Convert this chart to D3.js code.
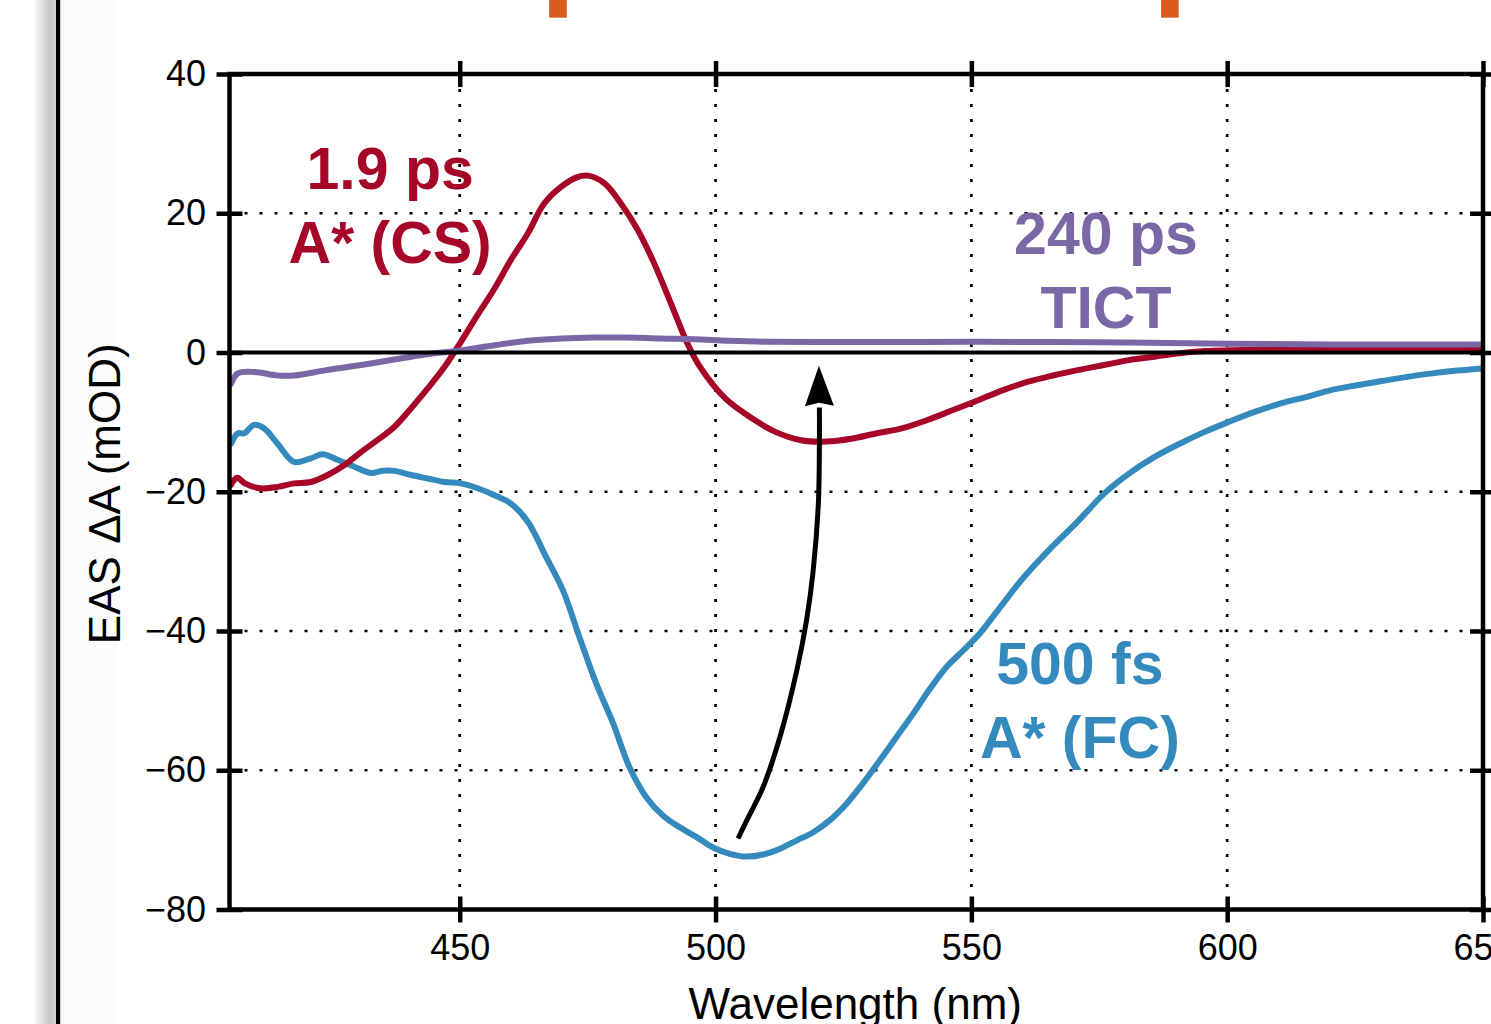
<!DOCTYPE html>
<html>
<head>
<meta charset="utf-8">
<script src="https://cdn.jsdelivr.net/npm/d3@7"></script>
<style>
  html, body { margin: 0; padding: 0; background: #ffffff; }
  svg { display: block; }
  text { font-family: "Liberation Sans", Arial, Helvetica, sans-serif; }
</style>
</head>
<body>
<svg id="chart" width="1491" height="1024"></svg>
<script>
// Evolution-associated spectra (EAS), wavelength in nm, ΔA in mOD

// 500 fs component, A* (FC)
const wl500fs = [405.3, 406.6, 407.9, 409.8, 411.8, 414.4, 417.6, 420.9, 423.2, 426.1, 429.4, 432.6, 435.0, 437.2,
  440.5, 443.7, 447.0, 450.2, 453.5, 456.8, 460.0, 463.3, 466.9, 470.2, 473.4, 476.7, 480.0, 483.2, 486.5, 489.7,
  493.0, 496.3, 499.5, 502.8, 506.0, 509.3, 512.5, 515.8, 519.1, 522.3, 525.6, 528.8, 532.1, 535.4, 538.6, 541.9,
  545.1, 548.4, 551.6, 555.2, 560.0, 565.0, 571.0, 575.9, 580.8, 585.8, 590.7, 595.6, 600.2, 605.5, 610.5, 615.4,
  620.3, 625.3, 630.2, 635.2, 640.1, 645.0, 650.0];
const dA500fs = [-13.1, -11.6, -11.6, -10.4, -10.9, -13.1, -15.7, -15.2, -14.6, -15.4, -16.4, -17.3, -17.0, -17.0,
  -17.6, -18.1, -18.6, -18.8, -19.5, -20.5, -21.7, -24.3, -29.4, -34.2, -40.9, -47.6, -53.3, -59.6, -63.9, -66.5,
  -68.2, -69.6, -71.1, -72.0, -72.4, -72.1, -71.3, -70.1, -68.9, -67.2, -64.8, -61.9, -58.6, -55.2, -51.9, -48.3,
  -45.2, -42.8, -40.4, -37.0, -32.5, -28.5, -24.1, -20.3, -17.4, -15.0, -13.1, -11.4, -10.0, -8.5, -7.3, -6.4,
  -5.4, -4.7, -4.1, -3.5, -3.0, -2.6, -2.3];

// 1.9 ps component, A* (CS)
const wl1_9ps = [405.3, 406.5, 408.0, 411.0, 414.4, 417.6, 420.9, 424.2, 427.4, 430.7, 433.9, 437.2, 440.5, 443.7,
  447.0, 450.2, 453.5, 456.8, 460.0, 463.3, 466.5, 469.8, 473.0, 475.0, 478.3, 481.5, 484.8, 488.0, 491.3, 494.5,
  496.9, 501.9, 506.8, 511.7, 516.7, 521.6, 526.5, 531.5, 536.4, 541.4, 546.3, 551.2, 556.2, 561.1, 566.0, 571.0,
  575.9, 580.8, 585.8, 590.7, 595.6, 605.0, 620.0, 635.0, 650.0];
const dA1_9ps = [-19.0, -18.0, -18.8, -19.5, -19.3, -18.8, -18.6, -17.6, -16.2, -14.3, -12.6, -10.7, -8.0, -5.2,
  -2.1, 1.5, 5.4, 9.2, 13.3, 17.1, 21.4, 23.8, 25.2, 25.4, 24.3, 21.4, 17.6, 12.8, 7.0, 1.3,
  -2.0, -6.6, -9.3, -11.4, -12.6, -12.8, -12.4, -11.6, -10.9, -9.7, -8.3, -6.9, -5.4, -4.2, -3.3, -2.5,
  -1.8, -1.1, -0.6, -0.1, 0.2, 0.4, 0.45, 0.45, 0.45];

// 240 ps component, TICT
const wl240ps = [405.3, 406.6, 409.8, 414.4, 417.6, 424.2, 430.7, 437.2, 443.7, 450.2, 456.8, 463.3, 469.8, 476.3,
  482.8, 489.3, 495.9, 502.4, 510.0, 520.0, 535.0, 550.0, 566.0, 585.0, 600.0, 620.0, 650.0];
const dA240ps = [-4.5, -3.0, -2.8, -3.3, -3.3, -2.5, -1.8, -1.0, -0.25, 0.3, 1.05, 1.7, 2.0, 2.15,
  2.15, 2.0, 1.9, 1.7, 1.55, 1.5, 1.5, 1.55, 1.5, 1.4, 1.25, 1.15, 1.15];

// axis ticks
const xTickValues = [450, 500, 550, 600, 650];
const yTickValues = [40, 20, 0, -20, -40, -60, -80];
const xDomain = [405, 650];
const yDomain = [-80, 40];

// component labels (anchor wavelength, ΔA at first baseline)
const componentNames = ["500 fs", "1.9 ps", "240 ps"];
const componentStates = ["A* (FC)", "A* (CS)", "TICT"];
const labelWavelengths = [571.2, 436.4, 576.3];
const labelValues = [-47.6, 23.5, 14.15];

// arrow from FC minimum towards the relaxed state (wavelength, ΔA)
const arrowWl = [504.4, 506.1, 509.3, 512.6, 515.9, 517.8, 519.1, 520.1, 520.3, 520.3];
const arrowDA = [-69.8, -67.2, -62.4, -55.2, -45.6, -38.4, -31.2, -21.6, -12.6, -7.9];
const arrowTip = [520.2, -1.9];

// markers above the panel
const markerWavelengths = [469.2, 588.8];

const colors = { "500 fs": "#348ABD", "1.9 ps": "#A60628", "240 ps": "#7A68A6" };

const svg = d3.select("#chart");
const W = 1491, H = 1024;
const plot = { left: 229.5, right: 1483, top: 74, bottom: 909.5 };

const x = d3.scaleLinear().domain(xDomain).range([plot.left, plot.right]);
const y = d3.scaleLinear().domain(yDomain).range([plot.bottom, plot.top]);

// page edge on the left: shadow, faint tint, black rule
const defs = svg.append("defs");
const sh = defs.append("linearGradient").attr("id", "shadow").attr("x1", "0").attr("x2", "1");
sh.append("stop").attr("offset", "0").attr("stop-color", "#ffffff");
sh.append("stop").attr("offset", "0.35").attr("stop-color", "#e4e4e4");
sh.append("stop").attr("offset", "0.75").attr("stop-color", "#c6c6c6");
sh.append("stop").attr("offset", "1").attr("stop-color", "#d4d4d4");
svg.append("rect").attr("x", 33).attr("y", 0).attr("width", 23).attr("height", H).attr("fill", "url(#shadow)");
svg.append("rect").attr("x", 60).attr("y", 0).attr("width", 57).attr("height", H).attr("fill", "#fcfcfc");
svg.append("rect").attr("x", 56).attr("y", 0).attr("width", 4.2).attr("height", H).attr("fill", "#000");

// orange markers at the very top
svg.selectAll("rect.marker").data(markerWavelengths).enter().append("rect")
  .attr("class", "marker")
  .attr("x", d => x(d) - 8.8).attr("y", 0)
  .attr("width", 17.6).attr("height", 17.7)
  .attr("fill", "#D95B1E");

// dotted grid
const grid = svg.append("g").attr("stroke", "#000").attr("stroke-width", 2.7).attr("stroke-dasharray", "3,12");
grid.selectAll("line.v").data(xTickValues.filter(v => v > xDomain[0] && v < xDomain[1])).enter().append("line")
  .attr("x1", d => x(d)).attr("x2", d => x(d)).attr("y1", plot.top).attr("y2", plot.bottom);
grid.selectAll("line.h").data(yTickValues.filter(v => v > yDomain[0] && v < yDomain[1])).enter().append("line")
  .attr("x1", plot.left).attr("x2", plot.right).attr("y1", d => y(d)).attr("y2", d => y(d));

// spectra
const line = d3.line().x(d => x(d[0])).y(d => y(d[1])).curve(d3.curveCatmullRom.alpha(0.5));
const series = [
  { name: "500 fs", wl: wl500fs, dA: dA500fs },
  { name: "1.9 ps", wl: wl1_9ps, dA: dA1_9ps },
  { name: "240 ps", wl: wl240ps, dA: dA240ps }
];
const clip = defs.append("clipPath").attr("id", "plotclip");
clip.append("rect").attr("x", plot.left).attr("y", plot.top)
  .attr("width", plot.right - plot.left).attr("height", plot.bottom - plot.top);
const curves = svg.append("g").attr("clip-path", "url(#plotclip)");
series.forEach(s => {
  curves.append("path")
    .datum(s.wl.map((w, i) => [w, s.dA[i]]))
    .attr("d", line)
    .attr("fill", "none")
    .attr("stroke", colors[s.name])
    .attr("stroke-width", 6)
    .attr("stroke-linejoin", "round")
    .attr("stroke-linecap", "round");
});

// zero line
svg.append("line")
  .attr("x1", plot.left).attr("x2", plot.right)
  .attr("y1", y(0)).attr("y2", y(0))
  .attr("stroke", "#000").attr("stroke-width", 4);

// curved arrow
const arrowLine = d3.line().x(d => x(d[0])).y(d => y(d[1])).curve(d3.curveCatmullRom.alpha(0.5));
svg.append("path")
  .datum(arrowWl.map((w, i) => [w, arrowDA[i]]))
  .attr("d", arrowLine)
  .attr("fill", "none").attr("stroke", "#000").attr("stroke-width", 5);
const tx = x(arrowTip[0]), ty = y(arrowTip[1]);
svg.append("path")
  .attr("d", `M${tx},${ty} L${tx + 15},${ty + 40} L${tx},${ty + 37} L${tx - 14},${ty + 40.5} Z`)
  .attr("fill", "#000");

// axes with in-and-out ticks
const tickLen = 13;
function styleAxis(g, horizontal) {
  g.select(".domain").remove();
  g.selectAll(".tick line")
    .attr("stroke", "#000").attr("stroke-width", 4.5)
    .attr(horizontal ? "y1" : "x1", horizontal ? -tickLen : tickLen);
}
const fmt = d3.format("d");

const axB = svg.append("g").attr("transform", `translate(0,${plot.bottom})`)
  .call(d3.axisBottom(x).tickValues(xTickValues).tickSize(tickLen).tickFormat(fmt));
styleAxis(axB, true);
axB.selectAll(".tick text").attr("y", 50).attr("dy", null)
  .attr("font-size", 36).attr("fill", "#000").attr("font-family", "Liberation Sans, Arial, sans-serif");

const axT = svg.append("g").attr("transform", `translate(0,${plot.top})`)
  .call(d3.axisTop(x).tickValues(xTickValues).tickSize(tickLen).tickFormat(""));
axT.select(".domain").remove();
axT.selectAll(".tick line").attr("stroke", "#000").attr("stroke-width", 4.5).attr("y1", tickLen);

const axL = svg.append("g").attr("transform", `translate(${plot.left},0)`)
  .call(d3.axisLeft(y).tickValues(yTickValues).tickSize(tickLen).tickFormat(fmt));
styleAxis(axL, false);
axL.selectAll(".tick text").attr("x", -23.5)
  .attr("font-size", 36).attr("fill", "#000").attr("font-family", "Liberation Sans, Arial, sans-serif");

const axR = svg.append("g").attr("transform", `translate(${plot.right},0)`)
  .call(d3.axisRight(y).tickValues(yTickValues).tickSize(tickLen).tickFormat(""));
axR.select(".domain").remove();
axR.selectAll(".tick line").attr("stroke", "#000").attr("stroke-width", 4.5).attr("x1", -tickLen);

// frame
svg.append("rect")
  .attr("x", plot.left).attr("y", plot.top)
  .attr("width", plot.right - plot.left).attr("height", plot.bottom - plot.top)
  .attr("fill", "none").attr("stroke", "#000").attr("stroke-width", 4.5);

// axis titles
svg.append("text")
  .attr("x", (plot.left + plot.right) / 2 - 1).attr("y", 1019)
  .attr("text-anchor", "middle").attr("font-size", 44).attr("fill", "#000")
  .text("Wavelength (nm)");
svg.append("text")
  .attr("transform", `translate(120,${(plot.top + plot.bottom) / 2 + 2}) rotate(-90)`)
  .attr("text-anchor", "middle").attr("font-size", 44).attr("fill", "#000")
  .text("EAS ΔA (mOD)");

// component labels
componentNames.forEach((name, i) => {
  const t = svg.append("text")
    .attr("x", x(labelWavelengths[i])).attr("y", y(labelValues[i]))
    .attr("text-anchor", "middle").attr("font-size", 59).attr("font-weight", "bold")
    .attr("fill", colors[name]);
  t.append("tspan").attr("x", x(labelWavelengths[i])).text(name);
  t.append("tspan").attr("x", x(labelWavelengths[i])).attr("dy", 74).text(componentStates[i]);
});
</script>
</body>
</html>
